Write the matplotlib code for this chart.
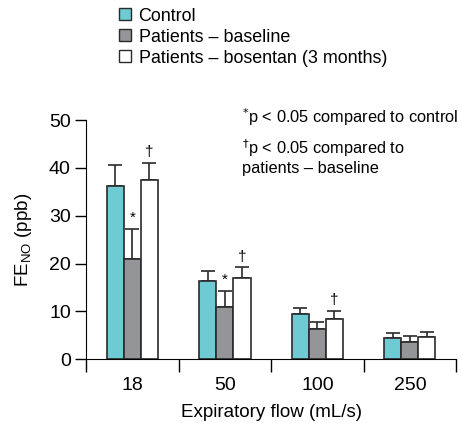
import numpy as np
import matplotlib.pyplot as plt
from matplotlib.patches import Patch

plt.rcParams['font.family'] = ['Liberation Sans', 'DejaVu Sans']

flows = ["18", "50", "100", "250"]
control = [36.3, 16.4, 9.4, 4.5]
control_err = [4.4, 2.0, 1.4, 1.0]
baseline = [21.0, 11.0, 6.3, 3.6]
baseline_err = [6.3, 3.3, 1.5, 1.2]
bosentan = [37.4, 17.0, 8.5, 4.6]
bosentan_err = [3.7, 2.2, 1.6, 1.2]
star_marks = [True, True, False, False]   # * above baseline
dagger_marks = [True, True, True, False]  # dagger above bosentan

series_names = ["Control", "Patients \u2013 baseline", "Patients \u2013 bosentan (3 months)"]
colors = ["#6fcbd3", "#939598", "#ffffff"]

fig = plt.figure(figsize=(4.63, 4.23), dpi=100)
ax = fig.add_axes([0.186, 0.1506, 0.799, 0.5654])

x = np.arange(len(flows))
w = 0.185
for i, (vals, errs) in enumerate([(control, control_err), (baseline, baseline_err), (bosentan, bosentan_err)]):
    pos = x + (i - 1) * w
    ax.bar(pos, vals, w, color=colors[i], edgecolor="#2a2a2a", linewidth=1.2, zorder=2)
    ax.errorbar(pos, vals, yerr=[np.zeros(len(vals)), errs], fmt="none",
                ecolor="#2a2a2a", elinewidth=1.2, capsize=5, capthick=1.2, zorder=1)

for j in range(len(flows)):
    if star_marks[j]:
        ax.text(x[j], baseline[j] + baseline_err[j] + 0.8, "*", ha="center", va="bottom", fontsize=11)
    if dagger_marks[j]:
        ax.text(x[j] + w, bosentan[j] + bosentan_err[j] + 0.8, "\u2020", ha="center", va="bottom", fontsize=11)

ax.set_xlim(-0.5, len(flows) - 0.5)
ax.set_ylim(0, 50)
ax.set_yticks([0, 10, 20, 30, 40, 50])
ax.set_xticks(np.arange(len(flows) + 1) - 0.5)
ax.set_xticklabels([])
ax.set_xticks(x, minor=True)
ax.set_xticklabels(flows, minor=True)
ax.tick_params(axis="x", which="minor", length=0, pad=13, labelsize=14)
ax.tick_params(axis="x", which="major", length=9, width=1, direction="out")
ax.tick_params(axis="y", length=8, width=1, direction="out", labelsize=14, pad=3)
ax.spines["top"].set_visible(False)
ax.spines["right"].set_visible(False)
ax.spines["left"].set_bounds(0, 50)
ax.set_xlabel("Expiratory flow (mL/s)", fontsize=13.5, labelpad=7)
ax.set_ylabel(r"FE$_{\mathregular{NO}}$ (ppb)", fontsize=13.5, labelpad=11)

handles = [Patch(facecolor=c, edgecolor="#2a2a2a", linewidth=1.0) for c in colors]
fig.legend(handles, series_names, loc="upper left", bbox_to_anchor=(0.222, 1.02), frameon=False,
           fontsize=12.9, handlelength=0.65, handleheight=0.65, handletextpad=0.45, labelspacing=0.22)

fig.text(0.522, 0.723, "$^{*}$p < 0.05 compared to control", fontsize=11.8, va="center")
fig.text(0.522, 0.63, "$^{\u2020}$p < 0.05 compared to\npatients \u2013 baseline", fontsize=11.8, va="center",
         linespacing=1.15)

fig.savefig("out.png", dpi=100)
